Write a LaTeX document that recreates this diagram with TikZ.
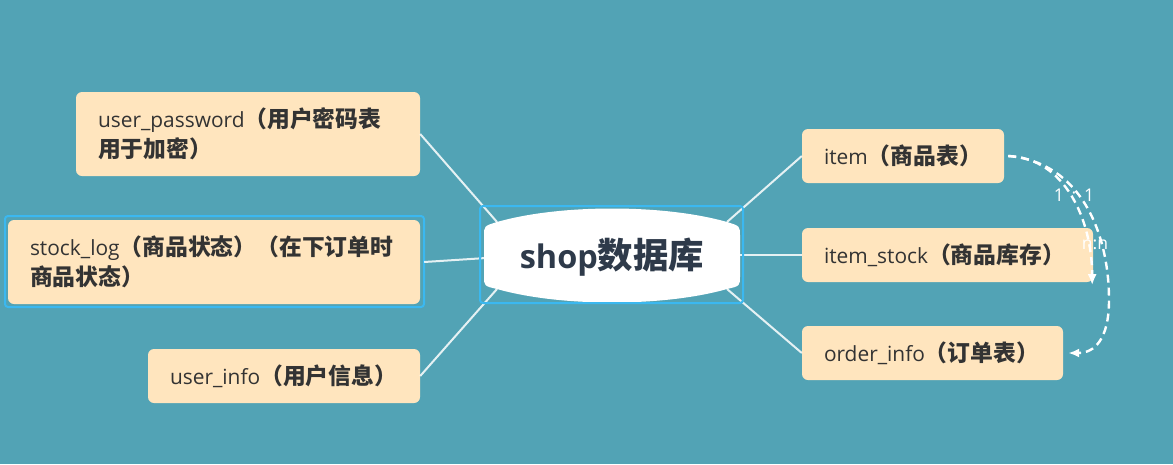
\documentclass[tikz,border=0pt]{standalone}
\usepackage{fontspec}
\setmainfont{Open Sans}[Scale=1.1]
\newfontfamily\cjk[Scale=1.2]{Noto Sans CJK SC}
\usetikzlibrary{arrows.meta}
\definecolor{bg}{HTML}{52A3B5}
\definecolor{boxfill}{HTML}{FFE5BE}
\definecolor{txt}{HTML}{333333}
\definecolor{ctxt}{HTML}{2E3A4A}
\definecolor{sel}{HTML}{3BB8F0}
\newcommand{\zh}[1]{{\cjk\bfseries #1}}
\begin{document}
\begin{tikzpicture}[x=1pt,y=-1pt,
 topic/.style={fill=boxfill, rounded corners=6pt, text=txt, font=\fontsize{19}{30}\selectfont, align=left, inner xsep=22pt, inner ysep=0pt, anchor=center},
 link/.style={draw=white, line width=2pt, opacity=0.85},
 rel/.style={draw=white, line width=2.4pt, dash pattern=on 8pt off 5pt, -{Latex[length=11pt,width=9pt]}},
 selbox/.style={draw=sel, line width=2pt, rounded corners=3pt},
 rellabel/.style={text=white, font=\fontsize{16}{16}\selectfont, inner sep=0pt}]
\fill[bg] (0,0) rectangle (1173,464);
\useasboundingbox (0,0) rectangle (1173,464);
% topics
\node[topic, text width=300pt, minimum height=84pt] (up) at (248,134) {user\_password\zh{（用户密码表}\\\zh{用于加密）}};
\node[topic, text width=368pt, minimum height=84pt] (sl) at (214,262) {stock\_log\zh{（商品状态）（在下订单时}\\\zh{商品状态）}};
\node[topic, text width=228pt, minimum height=54pt] (ui) at (284,376) {user\_info\zh{（用户信息）}};
\node[topic, text width=158pt, minimum height=54pt] (it) at (903,156) {item\zh{（商品表）}};
\node[topic, text width=247pt, minimum height=54pt] (is) at (947.5,255) {item\_stock\zh{（商品库存）}};
\node[topic, text width=217pt, minimum height=54pt] (oi) at (932.5,353) {order\_info\zh{（订单表）}};
\draw[selbox] (5,216) rectangle (424,307);
% anchor points on the central topic
\coordinate (cNW) at (497,222);
\coordinate (cSW) at (497,289);
\coordinate (cW) at (486,258);
\coordinate (cNE) at (727,222);
\coordinate (cSE) at (727,289);
\coordinate (cE) at (738,255);
\draw[link] (up.east) -- (cNW);
\draw[link] ([xshift=4pt]sl.east) -- (cW);
\draw[link] (ui.east) -- (cSW);
\draw[link] (it.west) -- (cNE);
\draw[link] (is.west) -- (cE);
\draw[link] (oi.west) -- (cSE);
% central shape
\fill[white] (484,236) -- (484,276) .. controls (484,286) .. (497,289)
  .. controls (560,307) and (664,307) .. (727,289)
  .. controls (740,286) .. (740,276) -- (740,236)
  .. controls (740,226) .. (727,222)
  .. controls (664,204) and (560,204) .. (497,222)
  .. controls (484,226) .. (484,236) -- cycle;
\draw[selbox] (480,206) rectangle (743,303);
\node[text=ctxt, font=\fontsize{29.5}{29.5}\selectfont\bfseries, inner sep=0pt] (c) at (612,257) {shop\zh{数据库}};
% relations
\draw[rel] ([xshift=4pt]it.east) .. controls (1065,158) and (1092,220) .. ([xshift=-1pt,yshift=-3pt]is.north east |- is.south);
\draw[rel] ([xshift=4pt]it.east) .. controls (1080,162) and (1109,232) .. (1109,300)
  .. controls (1109,340) and (1094,353) .. ([xshift=5pt]oi.east);
\node[rellabel] (l1) at (1074,195) {1\;\,:\;\,1};
\node[rellabel] (l2) at (1095,245) {n:n};
\end{tikzpicture}
\end{document}
